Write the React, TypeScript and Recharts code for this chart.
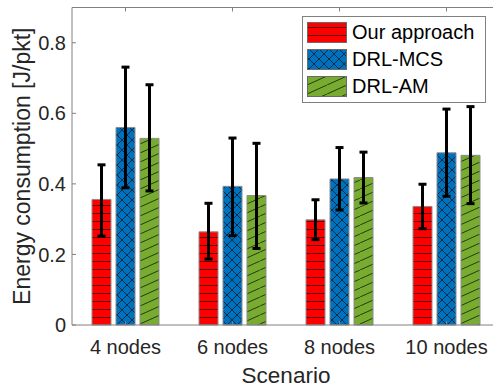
import { Bar, BarChart, ErrorBar, Legend, XAxis, YAxis } from "recharts";

const categories = ["4 nodes", "6 nodes", "8 nodes", "10 nodes"];
const seriesNames = ["Our approach", "DRL-MCS", "DRL-AM"];

const ourApproach = [0.356, 0.264, 0.298, 0.336];
const ourLow = [0.252, 0.187, 0.242, 0.273];
const ourHigh = [0.454, 0.345, 0.355, 0.399];

const drlMcs = [0.56, 0.393, 0.414, 0.488];
const mcsLow = [0.389, 0.253, 0.326, 0.365];
const mcsHigh = [0.731, 0.53, 0.503, 0.612];

const drlAm = [0.529, 0.367, 0.418, 0.481];
const amLow = [0.38, 0.217, 0.346, 0.344];
const amHigh = [0.681, 0.515, 0.49, 0.619];

const yTicks = [0, 0.2, 0.4, 0.6, 0.8];

const FONT = "'Liberation Sans', Arial, sans-serif";
const AXIS = "#808080";
const INK = "#262626";

const chartData = categories.map((scenario, i) => ({
  scenario,
  ours: ourApproach[i],
  oursErr: [ourApproach[i] - ourLow[i], ourHigh[i] - ourApproach[i]],
  mcs: drlMcs[i],
  mcsErr: [drlMcs[i] - mcsLow[i], mcsHigh[i] - drlMcs[i]],
  am: drlAm[i],
  amErr: [drlAm[i] - amLow[i], amHigh[i] - drlAm[i]],
}));

// hatch fills, MATLAB hatchfill look
function HatchDefs({ prefix }: { prefix: string }) {
  return (
    <defs>
      <pattern id={`${prefix}-red`} patternUnits="userSpaceOnUse" x={0} y={5} width={8} height={8}>
        <rect width={8} height={8} fill="#ff0000" />
        <line x1={0} y1={0.5} x2={8} y2={0.5} stroke="#5a0000" strokeWidth={1} />
      </pattern>
      <pattern id={`${prefix}-blue`} patternUnits="userSpaceOnUse" x={2} y={0} width={10} height={10}>
        <rect width={10} height={10} fill="#0072bd" />
        <line x1={0} y1={0} x2={10} y2={10} stroke="#0b2540" strokeWidth={0.9} />
        <line x1={0} y1={10} x2={10} y2={0} stroke="#0b2540" strokeWidth={0.9} />
      </pattern>
      <pattern id={`${prefix}-green`} patternUnits="userSpaceOnUse" x={0} y={0} width={20} height={9}>
        <rect width={20} height={9} fill="#77ac30" />
        <line x1={0} y1={9} x2={20} y2={0} stroke="#1f2d0a" strokeWidth={0.9} />
      </pattern>
    </defs>
  );
}

const legendFills = ["red", "blue", "green"];

function HatchLegend() {
  return (
    <div
      style={{
        boxSizing: "border-box",
        width: 184,
        border: `1px solid ${AXIS}`,
        background: "#fff",
        padding: "2px 4px",
        fontFamily: FONT,
        fontSize: 20,
        color: "#000",
      }}
    >
      {seriesNames.map((name, i) => (
        <div key={name} style={{ display: "flex", alignItems: "center", height: 27 }}>
          <svg width={40} height={21} style={{ display: "block" }}>
            <HatchDefs prefix={`lg${i}`} />
            <rect x={0.5} y={0.5} width={39} height={20} fill={`url(#lg${i}-${legendFills[i]})`} stroke="#6a6a6a" strokeWidth={1} />
          </svg>
          <span style={{ marginLeft: 5, lineHeight: "21px" }}>{name}</span>
        </div>
      ))}
    </div>
  );
}

export default function App() {
  const tickStyle = { fill: INK, fontSize: 20, fontFamily: FONT };
  return (
    <div style={{ position: "absolute", left: 0, top: 0, width: 493, height: 388, overflow: "hidden", background: "#fff" }}>
      <BarChart
        width={510}
        height={388}
        data={chartData}
        margin={{ top: 6.5, right: 10, left: 0, bottom: 0 }}
        barSize={19}
        barGap={5}
        style={{ fontFamily: FONT }}
      >
        <HatchDefs prefix="bar" />
        <XAxis
          xAxisId="top"
          orientation="top"
          dataKey="scenario"
          height={1}
          tickSize={-4}
          tickFormatter={() => ""}
          axisLine={{ stroke: AXIS }}
          tickLine={{ stroke: AXIS }}
        />
        <XAxis
          dataKey="scenario"
          height={63}
          tickSize={-4}
          tickMargin={19}
          tick={tickStyle}
          axisLine={{ stroke: AXIS }}
          tickLine={{ stroke: AXIS }}
          interval={0}
          label={{ value: "Scenario", position: "insideBottom", offset: 5, style: { fontSize: 22.5, fill: INK, fontFamily: FONT } }}
        />
        <YAxis
          width={72}
          domain={[0, 0.9]}
          ticks={yTicks}
          interval={0}
          tickSize={-4}
          tickMargin={10}
          tick={tickStyle}
          axisLine={{ stroke: AXIS }}
          tickLine={{ stroke: AXIS }}
          label={{
            value: "Energy consumption [J/pkt]",
            angle: -90,
            position: "insideLeft",
            offset: 22,
            style: { textAnchor: "middle", fontSize: 23, fill: INK, fontFamily: FONT },
          }}
        />
        <Legend
          layout="vertical"
          align="center"
          verticalAlign="middle"
          wrapperStyle={{ left: 302, top: 16, width: 184 }}
          content={() => <HatchLegend />}
        />
        <Bar dataKey="ours" name={seriesNames[0]} fill="url(#bar-red)" stroke="#8c8c8c" strokeWidth={1} isAnimationActive={false}>
          <ErrorBar dataKey="oursErr" direction="y" width={4} stroke="#000" strokeWidth={3} isAnimationActive={false} />
        </Bar>
        <Bar dataKey="mcs" name={seriesNames[1]} fill="url(#bar-blue)" stroke="#8c8c8c" strokeWidth={1} isAnimationActive={false}>
          <ErrorBar dataKey="mcsErr" direction="y" width={4} stroke="#000" strokeWidth={3} isAnimationActive={false} />
        </Bar>
        <Bar dataKey="am" name={seriesNames[2]} fill="url(#bar-green)" stroke="#8c8c8c" strokeWidth={1} isAnimationActive={false}>
          <ErrorBar dataKey="amErr" direction="y" width={4} stroke="#000" strokeWidth={3} isAnimationActive={false} />
        </Bar>
      </BarChart>
    </div>
  );
}
